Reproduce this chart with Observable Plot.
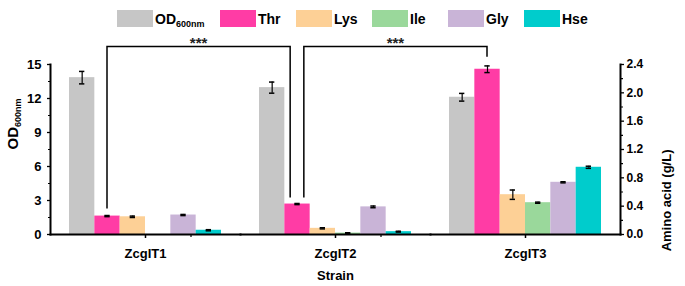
<!DOCTYPE html>
<html><head><meta charset="utf-8">
<script src="https://cdn.jsdelivr.net/npm/d3@7"></script>
<script src="https://cdn.jsdelivr.net/npm/@observablehq/plot@0.6"></script>
<style>
body{margin:0;background:#fff;}
#wrap{position:relative;width:685px;height:286px;font-family:"Liberation Sans",Arial,sans-serif;font-weight:bold;color:#000;}
#legend{position:absolute;top:10px;left:117px;display:flex;}
.item{display:flex;align-items:center;width:76px;font-size:14px;height:17px;}
.item:first-child{width:103px}
.sw{width:36px;height:17px;margin-right:2px;flex:none;}
.item sub{font-size:9px;vertical-align:-3px;line-height:0}
svg text{font-family:"Liberation Sans",Arial,sans-serif;font-weight:bold;}
</style></head><body><div id="wrap"><div id="legend"></div></div>
<script>
// ---- data ----
const strains = ["ZcgIT1", "ZcgIT2", "ZcgIT3"];
const series = ["OD600nm", "Thr", "Lys", "Ile", "Gly", "Hse"];
const colors = ["#c6c6c6", "#ff3ca5", "#fdd096", "#9ad89b", "#c9b4d7", "#00cccc"];
// OD600nm (left axis)
const od = [13.84, 12.96, 12.11];
const odErr = [0.55, 0.49, 0.34];
// amino acids g/L (right axis)
const thr = [0.26, 0.43, 2.333];
const thrErr = [0.008, 0.008, 0.047];
const lys = [0.25, 0.087, 0.562];
const lysErr = [0.01, 0.008, 0.066];
const ile = [0, 0.02, 0.449];
const ileErr = [0, 0.005, 0.008];
const gly = [0.275, 0.39, 0.737];
const glyErr = [0.008, 0.012, 0.008];
const hse = [0.06, 0.04, 0.949];
const hseErr = [0.008, 0.006, 0.015];
// axes
const leftTicks = [0, 3, 6, 9, 12, 15];
const leftMinor = [1.5, 4.5, 7.5, 10.5, 13.5];
const rightTicks = [0, 0.4, 0.8, 1.2, 1.6, 2.0, 2.4];
const rightMinor = [0.2, 0.6, 1.0, 1.4, 1.8, 2.2];
// significance brackets (left-axis units)
const bracketSeries = "Thr";
const bracketFrom = ["ZcgIT1", "ZcgIT2"];
const bracketTo = ["ZcgIT2", "ZcgIT3"];
const bracketTop = [16.55, 16.55];
const legStart = [2.25, 3.22];
const legEnd = [3.22, 15.64];
const bracketLabel = ["***", "***"];

const leftMax = leftTicks[leftTicks.length - 1];
const rightMax = rightTicks[rightTicks.length - 1];
const k = leftMax / rightMax;

const vals = [od, thr, lys, ile, gly, hse];
const errs = [odErr, thrErr, lysErr, ileErr, glyErr, hseErr];
const rows = strains.flatMap((s, i) => series.map((name, j) => {
  const f = j === 0 ? 1 : k;
  return {strain: s, series: name, v: vals[j][i] * f, e: errs[j][i] * f};
}));
const errRows = rows.filter(d => d.v > 0 && d.e > 0);

function bracketRender(index, scales) {
  const {x, y, fx} = scales;
  const bw = x.bandwidth();
  const base = fx(strains[0]);
  const cx = s => fx(s) - base + x(bracketSeries) + bw / 2;
  const g = d3.create("svg:g").attr("fill", "none").attr("stroke", "black").attr("stroke-width", 1.5);
  bracketFrom.forEach((a, i) => {
    const b = bracketTo[i];
    const x1 = cx(a) + (bracketTo.includes(a) ? 0.27 * bw : 0);
    const x2 = cx(b) - (bracketFrom.includes(b) ? 0.27 * bw : 0);
    const yt = y(bracketTop[i]);
    g.append("path").attr("d", `M${x1},${y(legStart[i])}V${yt}H${x2}V${y(legEnd[i])}`);
    g.append("text").attr("x", (x1 + x2) / 2).attr("y", yt + 2).attr("text-anchor", "middle")
      .attr("fill", "#222").attr("stroke", "none").attr("font-size", 15).text(bracketLabel[i]);
  });
  strains.slice(1).forEach(s => {
    const xb = fx(s) - base;
    g.append("line").attr("x1", xb).attr("x2", xb).attr("y1", y(0)).attr("y2", y(0) + 3).attr("stroke-width", 1.2);
  });
  return g.node();
}

const chart = Plot.plot({
  width: 685,
  height: 286,
  marginLeft: 49,
  marginRight: 64,
  marginTop: 64,
  marginBottom: 52,
  style: {background: "white", color: "black", overflow: "visible"},
  fx: {domain: strains, padding: 0, axis: null},
  x: {domain: series, paddingInner: 0, paddingOuter: 0.75, round: false, axis: null},
  y: {domain: [0, leftMax], axis: null},
  color: {domain: series, range: colors},
  marks: [
    Plot.barY(rows, {fx: "strain", x: "series", y: "v", fill: "series"}),
    Plot.ruleX(errRows, {fx: "strain", x: "series", y1: d => d.v - d.e, y2: d => d.v + d.e, stroke: "black", strokeWidth: 1.2}),
    Plot.tickY(errRows, {fx: "strain", x: "series", y: d => d.v + d.e, insetLeft: 10, insetRight: 10, stroke: "black", strokeWidth: 1.5}),
    Plot.tickY(errRows, {fx: "strain", x: "series", y: d => d.v - d.e, insetLeft: 10, insetRight: 10, stroke: "black", strokeWidth: 1.5}),
    Plot.frame({anchor: "bottom", strokeWidth: 2}),
    Plot.frame({anchor: "left", facetAnchor: "left", strokeWidth: 2}),
    Plot.frame({anchor: "right", facetAnchor: "right", strokeWidth: 2}),
    Plot.axisY({anchor: "left", ticks: leftTicks, tickSize: 3, tickPadding: 6, fontSize: 13, strokeWidth: 1.3, label: null}),
    Plot.axisY({anchor: "left", ticks: leftMinor, tickSize: 2, tickFormat: () => "", strokeWidth: 1.2, label: null}),
    Plot.axisY({anchor: "right", ticks: rightTicks.map(t => t * k), tickFormat: t => (t / k).toFixed(1), tickSize: 3, tickPadding: 3, fontSize: 12, strokeWidth: 1.3, label: null}),
    Plot.axisY({anchor: "right", ticks: rightMinor.map(t => t * k), tickSize: 2, tickFormat: () => "", strokeWidth: 1.2, label: null}),
    Plot.axisFx({anchor: "bottom", tickSize: 4, tickPadding: 10, fontSize: 13, strokeWidth: 1.5, label: "Strain", labelAnchor: "center", labelOffset: 45}),
    Plot.text(["OD600nm"], {frameAnchor: "left", facetAnchor: "left", rotate: -90, dx: -37, fontSize: 15}),
    Plot.text(["Amino acid (g/L)"], {frameAnchor: "right", facetAnchor: "right", rotate: -90, dx: 46, fontSize: 13}),
    Plot.ruleY([0], {facetAnchor: "left", render: bracketRender})
  ]
});

// subscript in the y label
chart.querySelectorAll("text").forEach(t => {
  if (t.textContent === "OD600nm" && !t.querySelector("tspan")) {
    t.textContent = "OD";
    const ts = document.createElementNS("http://www.w3.org/2000/svg", "tspan");
    ts.setAttribute("font-size", "9");
    ts.setAttribute("dy", "3");
    ts.textContent = "600nm";
    t.appendChild(ts);
  }
});

const wrap = document.getElementById("wrap");
wrap.appendChild(chart);

// legend
const legend = d3.select("#legend");
series.forEach((s, i) => {
  const it = legend.append("div").attr("class", "item");
  it.append("div").attr("class", "sw").style("background", colors[i]);
  const lab = it.append("span");
  if (s === "OD600nm") { lab.text("OD"); lab.append("sub").text("600nm"); }
  else lab.text(s);
});
</script></body></html>
